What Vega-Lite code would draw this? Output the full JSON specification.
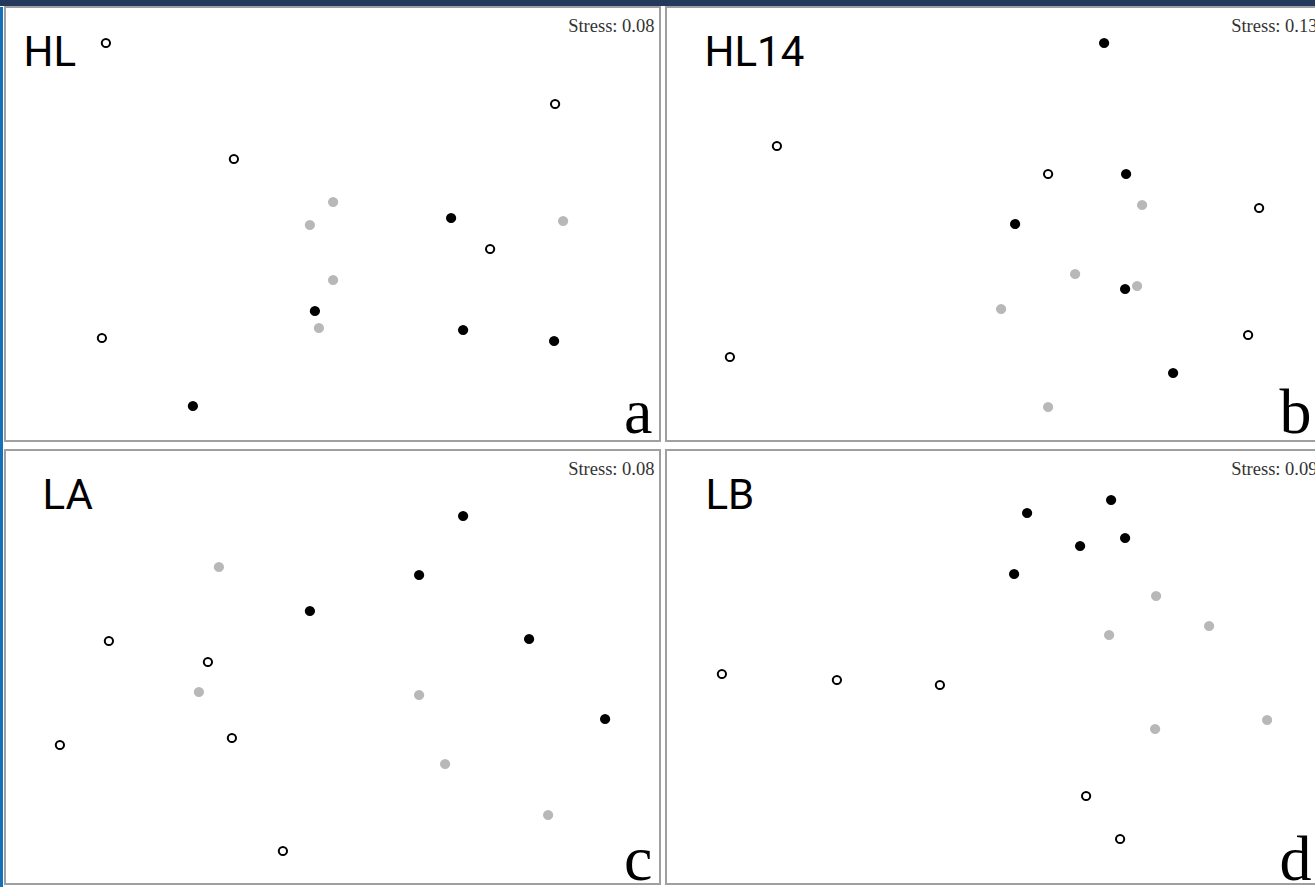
{
  "$schema": "https://vega.github.io/schema/vega-lite/v6.json",
  "padding": 0,
  "background": "white",
  "config": {"view": {"stroke": "#a0a0a0", "strokeWidth": 2}},
  "datasets": {
    "pts": [
      {"panel": "HL", "group": "open", "NMDS1": -1.133, "NMDS2": 0.905},
      {"panel": "HL", "group": "open", "NMDS1": 1.113, "NMDS2": 0.6},
      {"panel": "HL", "group": "open", "NMDS1": -0.493, "NMDS2": 0.325},
      {"panel": "HL", "group": "open", "NMDS1": 0.788, "NMDS2": -0.125},
      {"panel": "HL", "group": "open", "NMDS1": -1.153, "NMDS2": -0.57},
      {"panel": "HL", "group": "black", "NMDS1": 0.593, "NMDS2": 0.03},
      {"panel": "HL", "group": "black", "NMDS1": -0.088, "NMDS2": -0.435},
      {"panel": "HL", "group": "black", "NMDS1": 0.653, "NMDS2": -0.53},
      {"panel": "HL", "group": "black", "NMDS1": 1.108, "NMDS2": -0.585},
      {"panel": "HL", "group": "black", "NMDS1": -0.698, "NMDS2": -0.91},
      {"panel": "HL", "group": "grey", "NMDS1": 0.003, "NMDS2": 0.11},
      {"panel": "HL", "group": "grey", "NMDS1": -0.113, "NMDS2": -0.005},
      {"panel": "HL", "group": "grey", "NMDS1": 1.153, "NMDS2": 0.015},
      {"panel": "HL", "group": "grey", "NMDS1": 0.003, "NMDS2": -0.28},
      {"panel": "HL", "group": "grey", "NMDS1": -0.068, "NMDS2": -0.52},

      {"panel": "HL14", "group": "black", "NMDS1": 0.553, "NMDS2": 0.905},
      {"panel": "HL14", "group": "black", "NMDS1": 0.663, "NMDS2": 0.25},
      {"panel": "HL14", "group": "black", "NMDS1": 0.108, "NMDS2": 0.0},
      {"panel": "HL14", "group": "black", "NMDS1": 0.658, "NMDS2": -0.325},
      {"panel": "HL14", "group": "black", "NMDS1": 0.898, "NMDS2": -0.745},
      {"panel": "HL14", "group": "open", "NMDS1": -1.083, "NMDS2": 0.39},
      {"panel": "HL14", "group": "open", "NMDS1": 0.273, "NMDS2": 0.25},
      {"panel": "HL14", "group": "open", "NMDS1": 1.328, "NMDS2": 0.08},
      {"panel": "HL14", "group": "open", "NMDS1": 1.273, "NMDS2": -0.555},
      {"panel": "HL14", "group": "open", "NMDS1": -1.318, "NMDS2": -0.665},
      {"panel": "HL14", "group": "grey", "NMDS1": 0.743, "NMDS2": 0.095},
      {"panel": "HL14", "group": "grey", "NMDS1": 0.408, "NMDS2": -0.25},
      {"panel": "HL14", "group": "grey", "NMDS1": 0.718, "NMDS2": -0.31},
      {"panel": "HL14", "group": "grey", "NMDS1": 0.038, "NMDS2": -0.425},
      {"panel": "HL14", "group": "grey", "NMDS1": 0.273, "NMDS2": -0.915},

      {"panel": "LA", "group": "black", "NMDS1": 0.653, "NMDS2": 0.755},
      {"panel": "LA", "group": "black", "NMDS1": 0.433, "NMDS2": 0.46},
      {"panel": "LA", "group": "black", "NMDS1": -0.113, "NMDS2": 0.28},
      {"panel": "LA", "group": "black", "NMDS1": 0.983, "NMDS2": 0.14},
      {"panel": "LA", "group": "black", "NMDS1": 1.363, "NMDS2": -0.26},
      {"panel": "LA", "group": "open", "NMDS1": -1.118, "NMDS2": 0.13},
      {"panel": "LA", "group": "open", "NMDS1": -0.623, "NMDS2": 0.025},
      {"panel": "LA", "group": "open", "NMDS1": -1.363, "NMDS2": -0.39},
      {"panel": "LA", "group": "open", "NMDS1": -0.503, "NMDS2": -0.355},
      {"panel": "LA", "group": "open", "NMDS1": -0.248, "NMDS2": -0.92},
      {"panel": "LA", "group": "grey", "NMDS1": -0.568, "NMDS2": 0.5},
      {"panel": "LA", "group": "grey", "NMDS1": -0.668, "NMDS2": -0.125},
      {"panel": "LA", "group": "grey", "NMDS1": 0.433, "NMDS2": -0.14},
      {"panel": "LA", "group": "grey", "NMDS1": 0.563, "NMDS2": -0.485},
      {"panel": "LA", "group": "grey", "NMDS1": 1.078, "NMDS2": -0.74},

      {"panel": "LB", "group": "black", "NMDS1": 0.588, "NMDS2": 0.835},
      {"panel": "LB", "group": "black", "NMDS1": 0.168, "NMDS2": 0.77},
      {"panel": "LB", "group": "black", "NMDS1": 0.433, "NMDS2": 0.605},
      {"panel": "LB", "group": "black", "NMDS1": 0.658, "NMDS2": 0.645},
      {"panel": "LB", "group": "black", "NMDS1": 0.103, "NMDS2": 0.465},
      {"panel": "LB", "group": "grey", "NMDS1": 0.813, "NMDS2": 0.355},
      {"panel": "LB", "group": "grey", "NMDS1": 1.078, "NMDS2": 0.205},
      {"panel": "LB", "group": "grey", "NMDS1": 0.578, "NMDS2": 0.16},
      {"panel": "LB", "group": "grey", "NMDS1": 0.808, "NMDS2": -0.31},
      {"panel": "LB", "group": "grey", "NMDS1": 1.368, "NMDS2": -0.265},
      {"panel": "LB", "group": "open", "NMDS1": -1.358, "NMDS2": -0.035},
      {"panel": "LB", "group": "open", "NMDS1": -0.783, "NMDS2": -0.065},
      {"panel": "LB", "group": "open", "NMDS1": -0.268, "NMDS2": -0.09},
      {"panel": "LB", "group": "open", "NMDS1": 0.463, "NMDS2": -0.645},
      {"panel": "LB", "group": "open", "NMDS1": 0.633, "NMDS2": -0.86}
    ]
  },
  "vconcat": [
    {
      "width": 1330, "height": 6,
      "data": {"values": [{"k": 1}]},
      "mark": {"type": "point", "opacity": 0, "size": 0, "strokeWidth": 0},
      "encoding": {},
      "view": {"fill": "#243a5c", "stroke": null}
    },
    {
      "hconcat": [
        {
          "width": 3, "height": 880,
          "data": {"values": [{"k": 1}]},
          "mark": {"type": "point", "opacity": 0, "size": 0, "strokeWidth": 0},
          "encoding": {},
          "view": {"fill": "#1672b8", "stroke": null}
        },
        {
          "vconcat": [
            {
              "hconcat": [
                {
                  "width": 655, "height": 434,
                  "data": {"name": "pts"},
                  "transform": [{"filter": "datum.panel === 'HL'"}],
                  "encoding": {
                    "fill": {"field": "group", "type": "nominal", "scale": {"domain": ["open", "black", "grey"], "range": ["white", "black", "#b8b8b8"]}, "legend": null},
                    "stroke": {"field": "group", "type": "nominal", "scale": {"domain": ["open", "black", "grey"], "range": ["black", "black", "#b8b8b8"]}, "legend": null}
                  },
                  "layer": [
                    {
                      "transform": [{"filter": "datum.group !== 'open'"}],
                      "mark": {"type": "point", "shape": "circle", "size": 68, "strokeWidth": 2, "opacity": 1, "fillOpacity": 1},
                      "encoding": {
                        "x": {"field": "NMDS1", "type": "quantitative", "scale": {"domain": [-1.6375, 1.6375], "nice": false, "zero": false},
                          "axis": {"orient": "bottom", "title": "a", "labels": false, "ticks": false, "domain": false, "grid": false, "titleFont": "Liberation Serif", "titleFontSize": 64, "titleFontWeight": "normal", "titleColor": "black", "titleAlign": "right", "titleBaseline": "alphabetic", "titleX": 647, "titleY": -9}},
                        "y": {"field": "NMDS2", "type": "quantitative", "scale": {"domain": [-1.085, 1.085], "nice": false, "zero": false},
                          "axis": {"orient": "left", "title": "HL", "labels": false, "ticks": false, "domain": false, "grid": false, "titleAngle": 0, "titleAlign": "left", "titleBaseline": "alphabetic", "titleX": 18, "titleY": 58, "titleFont": "Roboto", "titleFontSize": 42, "titleFontWeight": "normal", "titleColor": "black"}}
                      }
                    },
                    {
                      "transform": [{"filter": "datum.group === 'open'"}],
                      "mark": {"type": "point", "shape": "circle", "size": 68, "strokeWidth": 2, "opacity": 1, "fillOpacity": 1},
                      "encoding": {
                        "x": {"field": "NMDS1", "type": "quantitative", "scale": {"domain": [-1.6375, 1.6375], "nice": false, "zero": false}, "axis": null},
                        "y": {"field": "NMDS2", "type": "quantitative", "scale": {"domain": [-1.085, 1.085], "nice": false, "zero": false},
                          "axis": {"orient": "right", "title": "Stress: 0.08", "labels": false, "ticks": false, "domain": false, "grid": false, "titleAngle": 0, "titleAlign": "right", "titleBaseline": "alphabetic", "titleX": -6, "titleY": 24, "titleFont": "Liberation Serif", "titleFontSize": 18.5, "titleFontWeight": "normal", "titleColor": "#333333"}}
                      }
                    }
                  ],
                  "resolve": {"axis": {"x": "independent", "y": "independent"}}
                },
                {
                  "width": 655, "height": 434,
                  "data": {"name": "pts"},
                  "transform": [{"filter": "datum.panel === 'HL14'"}],
                  "encoding": {
                    "fill": {"field": "group", "type": "nominal", "scale": {"domain": ["open", "black", "grey"], "range": ["white", "black", "#b8b8b8"]}, "legend": null},
                    "stroke": {"field": "group", "type": "nominal", "scale": {"domain": ["open", "black", "grey"], "range": ["black", "black", "#b8b8b8"]}, "legend": null}
                  },
                  "layer": [
                    {
                      "transform": [{"filter": "datum.group !== 'open'"}],
                      "mark": {"type": "point", "shape": "circle", "size": 68, "strokeWidth": 2, "opacity": 1, "fillOpacity": 1},
                      "encoding": {
                        "x": {"field": "NMDS1", "type": "quantitative", "scale": {"domain": [-1.6375, 1.6375], "nice": false, "zero": false},
                          "axis": {"orient": "bottom", "title": "b", "labels": false, "ticks": false, "domain": false, "grid": false, "titleFont": "Liberation Serif", "titleFontSize": 64, "titleFontWeight": "normal", "titleColor": "black", "titleAlign": "right", "titleBaseline": "alphabetic", "titleX": 645, "titleY": -9}},
                        "y": {"field": "NMDS2", "type": "quantitative", "scale": {"domain": [-1.085, 1.085], "nice": false, "zero": false},
                          "axis": {"orient": "left", "title": "HL14", "labels": false, "ticks": false, "domain": false, "grid": false, "titleAngle": 0, "titleAlign": "left", "titleBaseline": "alphabetic", "titleX": 38, "titleY": 58, "titleFont": "Roboto", "titleFontSize": 42, "titleFontWeight": "normal", "titleColor": "black"}}
                      }
                    },
                    {
                      "transform": [{"filter": "datum.group === 'open'"}],
                      "mark": {"type": "point", "shape": "circle", "size": 68, "strokeWidth": 2, "opacity": 1, "fillOpacity": 1},
                      "encoding": {
                        "x": {"field": "NMDS1", "type": "quantitative", "scale": {"domain": [-1.6375, 1.6375], "nice": false, "zero": false}, "axis": null},
                        "y": {"field": "NMDS2", "type": "quantitative", "scale": {"domain": [-1.085, 1.085], "nice": false, "zero": false},
                          "axis": {"orient": "right", "title": "Stress: 0.13", "labels": false, "ticks": false, "domain": false, "grid": false, "titleAngle": 0, "titleAlign": "right", "titleBaseline": "alphabetic", "titleX": -4, "titleY": 24, "titleFont": "Liberation Serif", "titleFontSize": 18.5, "titleFontWeight": "normal", "titleColor": "#333333"}}
                      }
                    }
                  ],
                  "resolve": {"axis": {"x": "independent", "y": "independent"}}
                }
              ],
              "spacing": 4
            },
            {
              "hconcat": [
                {
                  "width": 655, "height": 434,
                  "data": {"name": "pts"},
                  "transform": [{"filter": "datum.panel === 'LA'"}],
                  "encoding": {
                    "fill": {"field": "group", "type": "nominal", "scale": {"domain": ["open", "black", "grey"], "range": ["white", "black", "#b8b8b8"]}, "legend": null},
                    "stroke": {"field": "group", "type": "nominal", "scale": {"domain": ["open", "black", "grey"], "range": ["black", "black", "#b8b8b8"]}, "legend": null}
                  },
                  "layer": [
                    {
                      "transform": [{"filter": "datum.group !== 'open'"}],
                      "mark": {"type": "point", "shape": "circle", "size": 68, "strokeWidth": 2, "opacity": 1, "fillOpacity": 1},
                      "encoding": {
                        "x": {"field": "NMDS1", "type": "quantitative", "scale": {"domain": [-1.6375, 1.6375], "nice": false, "zero": false},
                          "axis": {"orient": "bottom", "title": "c", "labels": false, "ticks": false, "domain": false, "grid": false, "titleFont": "Liberation Serif", "titleFontSize": 64, "titleFontWeight": "normal", "titleColor": "black", "titleAlign": "right", "titleBaseline": "alphabetic", "titleX": 647, "titleY": -5}},
                        "y": {"field": "NMDS2", "type": "quantitative", "scale": {"domain": [-1.085, 1.085], "nice": false, "zero": false},
                          "axis": {"orient": "left", "title": "LA", "labels": false, "ticks": false, "domain": false, "grid": false, "titleAngle": 0, "titleAlign": "left", "titleBaseline": "alphabetic", "titleX": 37, "titleY": 58, "titleFont": "Roboto", "titleFontSize": 42, "titleFontWeight": "normal", "titleColor": "black"}}
                      }
                    },
                    {
                      "transform": [{"filter": "datum.group === 'open'"}],
                      "mark": {"type": "point", "shape": "circle", "size": 68, "strokeWidth": 2, "opacity": 1, "fillOpacity": 1},
                      "encoding": {
                        "x": {"field": "NMDS1", "type": "quantitative", "scale": {"domain": [-1.6375, 1.6375], "nice": false, "zero": false}, "axis": null},
                        "y": {"field": "NMDS2", "type": "quantitative", "scale": {"domain": [-1.085, 1.085], "nice": false, "zero": false},
                          "axis": {"orient": "right", "title": "Stress: 0.08", "labels": false, "ticks": false, "domain": false, "grid": false, "titleAngle": 0, "titleAlign": "right", "titleBaseline": "alphabetic", "titleX": -6, "titleY": 24, "titleFont": "Liberation Serif", "titleFontSize": 18.5, "titleFontWeight": "normal", "titleColor": "#333333"}}
                      }
                    }
                  ],
                  "resolve": {"axis": {"x": "independent", "y": "independent"}}
                },
                {
                  "width": 655, "height": 434,
                  "data": {"name": "pts"},
                  "transform": [{"filter": "datum.panel === 'LB'"}],
                  "encoding": {
                    "fill": {"field": "group", "type": "nominal", "scale": {"domain": ["open", "black", "grey"], "range": ["white", "black", "#b8b8b8"]}, "legend": null},
                    "stroke": {"field": "group", "type": "nominal", "scale": {"domain": ["open", "black", "grey"], "range": ["black", "black", "#b8b8b8"]}, "legend": null}
                  },
                  "layer": [
                    {
                      "transform": [{"filter": "datum.group !== 'open'"}],
                      "mark": {"type": "point", "shape": "circle", "size": 68, "strokeWidth": 2, "opacity": 1, "fillOpacity": 1},
                      "encoding": {
                        "x": {"field": "NMDS1", "type": "quantitative", "scale": {"domain": [-1.6375, 1.6375], "nice": false, "zero": false},
                          "axis": {"orient": "bottom", "title": "d", "labels": false, "ticks": false, "domain": false, "grid": false, "titleFont": "Liberation Serif", "titleFontSize": 64, "titleFontWeight": "normal", "titleColor": "black", "titleAlign": "right", "titleBaseline": "alphabetic", "titleX": 645, "titleY": -5}},
                        "y": {"field": "NMDS2", "type": "quantitative", "scale": {"domain": [-1.085, 1.085], "nice": false, "zero": false},
                          "axis": {"orient": "left", "title": "LB", "labels": false, "ticks": false, "domain": false, "grid": false, "titleAngle": 0, "titleAlign": "left", "titleBaseline": "alphabetic", "titleX": 39, "titleY": 58, "titleFont": "Roboto", "titleFontSize": 42, "titleFontWeight": "normal", "titleColor": "black"}}
                      }
                    },
                    {
                      "transform": [{"filter": "datum.group === 'open'"}],
                      "mark": {"type": "point", "shape": "circle", "size": 68, "strokeWidth": 2, "opacity": 1, "fillOpacity": 1},
                      "encoding": {
                        "x": {"field": "NMDS1", "type": "quantitative", "scale": {"domain": [-1.6375, 1.6375], "nice": false, "zero": false}, "axis": null},
                        "y": {"field": "NMDS2", "type": "quantitative", "scale": {"domain": [-1.085, 1.085], "nice": false, "zero": false},
                          "axis": {"orient": "right", "title": "Stress: 0.09", "labels": false, "ticks": false, "domain": false, "grid": false, "titleAngle": 0, "titleAlign": "right", "titleBaseline": "alphabetic", "titleX": -4, "titleY": 24, "titleFont": "Liberation Serif", "titleFontSize": 18.5, "titleFontWeight": "normal", "titleColor": "#333333"}}
                      }
                    }
                  ],
                  "resolve": {"axis": {"x": "independent", "y": "independent"}}
                }
              ],
              "spacing": 4
            }
          ],
          "spacing": 3
        }
      ],
      "spacing": 1
    }
  ],
  "spacing": 0
}
